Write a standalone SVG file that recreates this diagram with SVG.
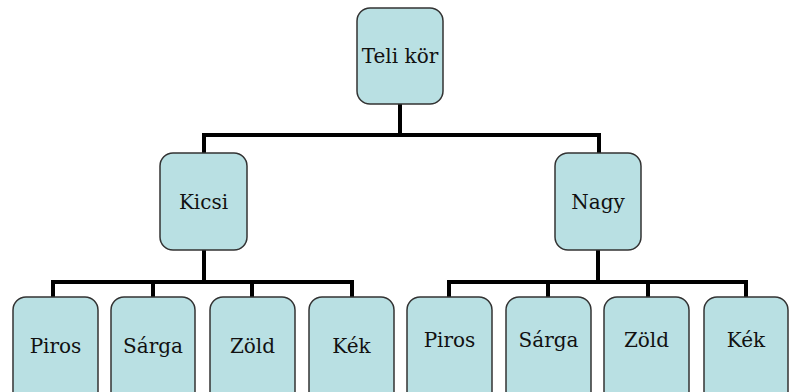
<svg xmlns="http://www.w3.org/2000/svg" width="795" height="392" viewBox="0 0 795 392">
  <style>
    .box { fill: #b9e0e3; stroke: #333333; stroke-width: 1.5; }
    .lbl { font-family: "DejaVu Serif", "Liberation Serif", serif; font-size: 20px; fill: #111111; text-anchor: middle; }
    .wire { fill: none; stroke: #000000; stroke-width: 4; stroke-linejoin: miter; }
  </style>
  <rect width="795" height="392" fill="#ffffff"/>

  <!-- connectors -->
  <g id="connectors">
    <path class="wire" d="M400,104 V135 M204,153 V135 H599 V153"/>
    <path class="wire" d="M204,250 V282 M53,297 V282 H352 V297 M153,282 V297 M252,282 V297"/>
    <path class="wire" d="M598,250 V282 M449,297 V282 H746 V297 M548,282 V297 M648,282 V297"/>
  </g>

  <!-- root -->
  <g id="teli-kor">
    <rect class="box" x="357" y="8" width="86" height="96" rx="13"/>
    <text class="lbl" x="400" y="63">Teli kör</text>
  </g>

  <!-- second level -->
  <g id="kicsi">
    <rect class="box" x="160" y="153" width="87" height="97" rx="13"/>
    <text class="lbl" x="203.5" y="209">Kicsi</text>
  </g>
  <g id="nagy">
    <rect class="box" x="555" y="153" width="86" height="97" rx="13"/>
    <text class="lbl" x="598" y="209">Nagy</text>
  </g>

  <!-- leaves under Kicsi -->
  <g id="kicsi-piros">
    <rect class="box" x="13" y="297" width="85" height="110" rx="13"/>
    <text class="lbl" x="55.5" y="353">Piros</text>
  </g>
  <g id="kicsi-sarga">
    <rect class="box" x="111" y="297" width="84" height="110" rx="13"/>
    <text class="lbl" x="153" y="353">Sárga</text>
  </g>
  <g id="kicsi-zold">
    <rect class="box" x="210" y="297" width="85" height="110" rx="13"/>
    <text class="lbl" x="252.5" y="353">Zöld</text>
  </g>
  <g id="kicsi-kek">
    <rect class="box" x="309" y="297" width="85" height="110" rx="13"/>
    <text class="lbl" x="351.5" y="353">Kék</text>
  </g>

  <!-- leaves under Nagy -->
  <g id="nagy-piros">
    <rect class="box" x="407" y="297" width="85" height="110" rx="13"/>
    <text class="lbl" x="449.5" y="347">Piros</text>
  </g>
  <g id="nagy-sarga">
    <rect class="box" x="506" y="297" width="85" height="110" rx="13"/>
    <text class="lbl" x="548.5" y="347">Sárga</text>
  </g>
  <g id="nagy-zold">
    <rect class="box" x="604" y="297" width="85" height="110" rx="13"/>
    <text class="lbl" x="646.5" y="347">Zöld</text>
  </g>
  <g id="nagy-kek">
    <rect class="box" x="704" y="297" width="84" height="110" rx="13"/>
    <text class="lbl" x="746" y="347">Kék</text>
  </g>
</svg>
